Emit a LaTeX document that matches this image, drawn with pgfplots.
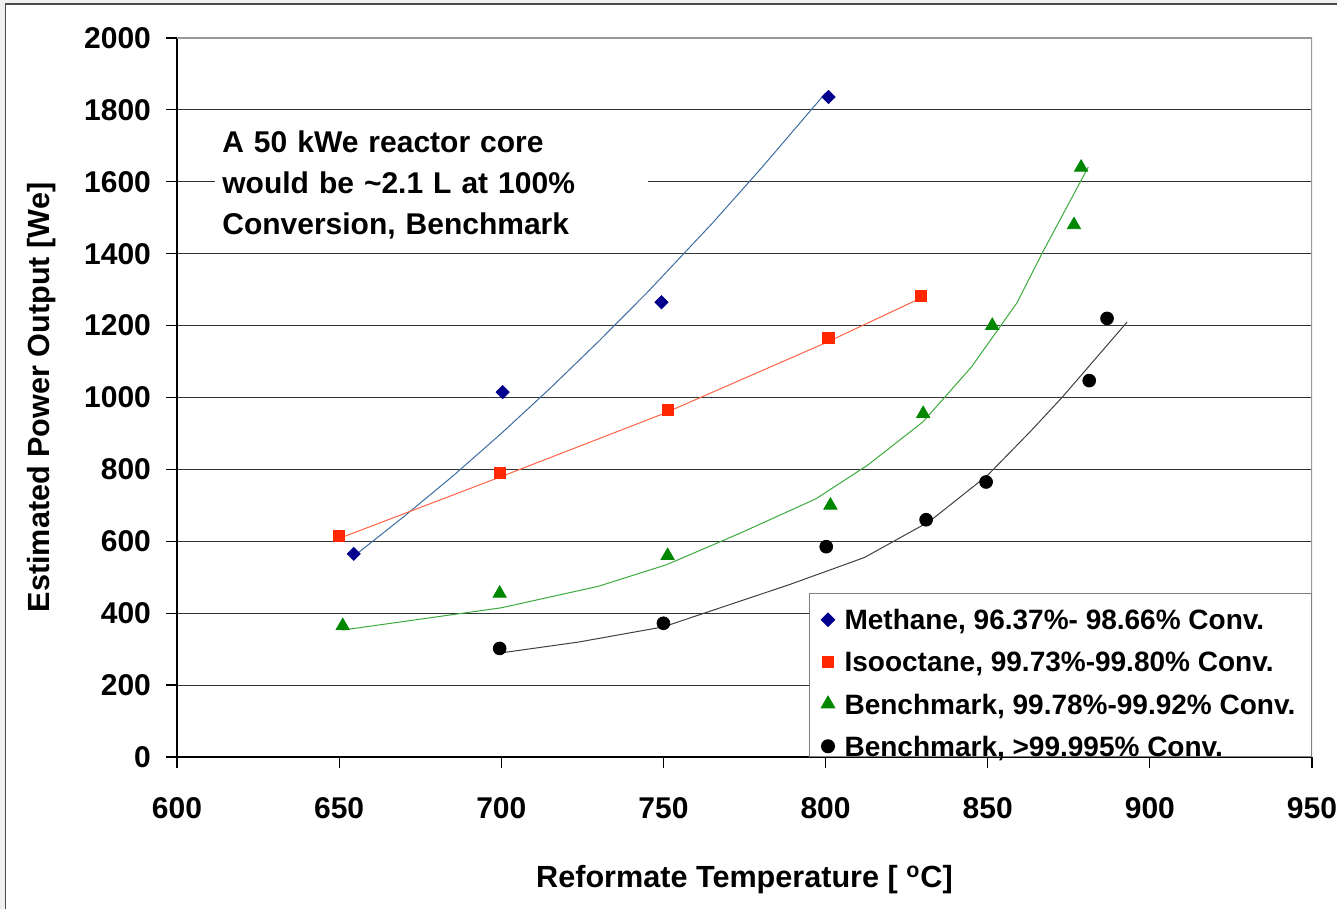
\documentclass[border=0pt]{standalone}
\usepackage{fontspec}
\setmainfont{Liberation Sans}
\usepackage{pgfplots}
\pgfplotsset{compat=1.18}

\definecolor{mblue}{RGB}{0,0,140}
\definecolor{ired}{RGB}{255,40,0}
\definecolor{bgreen}{RGB}{0,135,0}
\definecolor{lblue}{RGB}{60,110,160}
\definecolor{lred}{RGB}{255,100,70}
\definecolor{lgreen}{RGB}{60,170,60}

\begin{document}
\begin{tikzpicture}
\useasboundingbox (0pt,0pt) rectangle (668.5pt,454.5pt);
\fill[gray!12] (0pt,0pt) rectangle (668.5pt,454.5pt);
\filldraw[fill=white, draw=black!70, line width=0.6pt] (2.8pt,-5pt) rectangle (680pt,452.5pt);
\begin{axis}[
  at={(88.5pt,76pt)}, anchor=south west,
  scale only axis, width=567.5pt, height=359.5pt,
  xmin=600, xmax=950, ymin=0, ymax=2000,
  xtick={600,650,...,950}, ytick={0,200,...,2000},
  axis lines=left, axis line style={-, black, line width=0.6pt},
  tick align=outside, major tick length=5.5pt,
  tick style={black, line width=0.6pt},
  ymajorgrids, grid style={black!80, line width=0.5pt},
  tick label style={font=\fontsize{15}{17}\selectfont\bfseries},
  xticklabel style={yshift=-11pt},
  yticklabel style={xshift=-4pt},
  /pgf/number format/assume math mode=true,
  /pgf/number format/1000 sep={},
  xlabel={Reformate Temperature [ \textsuperscript{o}C]},
  ylabel={Estimated Power Output [We]},
  label style={font=\fontsize{15.3}{17}\selectfont\bfseries},
  xlabel style={at={(axis description cs:0.5,-0.171)}, anchor=center},
  ylabel style={at={(axis description cs:-0.119,0.5)}, anchor=center},
  legend style={at={(axis cs:950,0)}, anchor=south east, draw=gray,
    line width=0.6pt, font=\fontsize{14}{15}\selectfont\bfseries,
    inner xsep=6pt, inner ysep=0pt, row sep=11pt,
    nodes={inner ysep=0pt, text depth=0pt}},
  legend cell align=left,
]
% trend lines
\addplot[lblue, line width=0.5pt, forget plot] coordinates {
  (655,562) (670,669) (685,781) (700,900) (715,1025) (730,1156)
  (745,1292) (765,1484) (780,1636) (800,1847)};
\addplot[lred, line width=0.5pt, forget plot] coordinates {
  (650,608) (700,780) (750,955) (800,1152) (829,1275)};
\addplot[lgreen, line width=0.5pt, forget plot] coordinates {
  (651,353) (700,415) (730,475) (751,535) (773,620) (797,718)
  (813,812) (830,932) (845,1085) (859,1263) (867,1405) (881,1641)};
\addplot[black!75, line width=0.5pt, forget plot] coordinates {
  (699.5,289) (724,320) (750,362) (789,480) (812,555) (832,655)
  (850,784) (863,904) (873,1001) (893,1210)};

% data points
\addplot[only marks, mark=square*, mark size=2.3pt, color=mblue,
  mark options={rotate=45, fill=mblue},
  legend image post style={yshift=-4pt}] coordinates {
  (654.5,565) (700.4,1015) (749.4,1265) (800.9,1836)};
\addlegendentry{\rule{0pt}{18pt}\hspace{3pt}Methane, 96.37\%- 98.66\% Conv.}
\addplot[only marks, mark=square*, mark size=2.8pt, color=ired,
  mark options={fill=ired}] coordinates {
  (649.9,615) (699.5,790) (751.3,965) (800.9,1165) (829.5,1282)};
\addlegendentry{\rule{0pt}{10pt}\hspace{3pt}Isooctane, 99.73\%-99.80\% Conv.}
\addplot[only marks, mark=triangle*, mark size=3.8pt, color=bgreen,
  mark options={fill=bgreen}] coordinates {
  (651.1,365) (699.5,455) (751.3,560) (801.5,700) (830.1,955)
  (851.4,1200) (876.6,1480) (878.8,1640)};
\addlegendentry{\rule{0pt}{10pt}\hspace{3pt}Benchmark, 99.78\%-99.92\% Conv.}
\addplot[only marks, mark=*, mark size=3.2pt, color=black,
  mark options={fill=black}] coordinates {
  (699.5,302) (750,372) (800.2,585) (831,660) (849.5,765)
  (881.3,1047) (886.8,1220)};
\addlegendentry{\rule{0pt}{10pt}\hspace{3pt}Benchmark, >99.995\% Conv.}

\draw[gray!80, line width=0.6pt] (axis cs:950,0) -- (axis cs:950,2000);
\draw[gray!80, line width=0.6pt] (axis cs:600,2000) -- (axis cs:950,2000);

\node[fill=white, anchor=west, text width=209.5pt, inner xsep=3.5pt,
  inner ysep=4pt, align=left,
  font=\fontsize{15}{20.5}\selectfont\bfseries]
  at (axis cs:611.7,1591)
  {A 50 kWe reactor core\\would be \textasciitilde 2.1 L at 100\%\\Conversion, Benchmark};
\end{axis}
\end{tikzpicture}
\end{document}
